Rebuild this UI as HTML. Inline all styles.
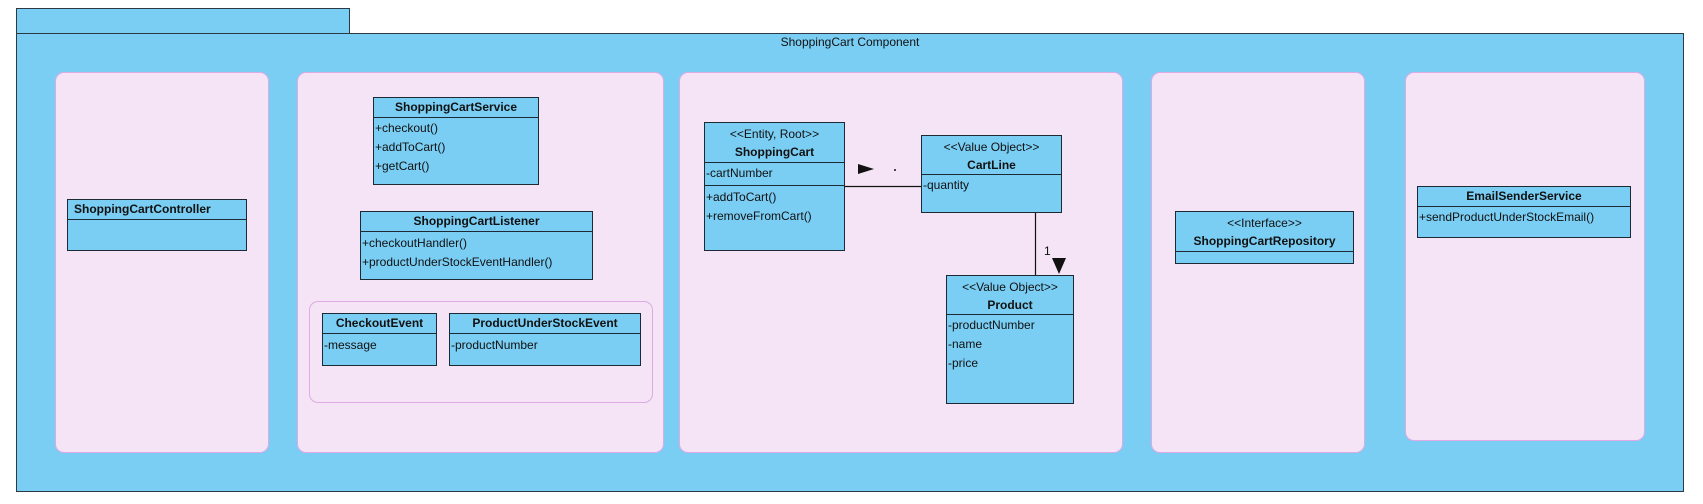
<!DOCTYPE html>
<html><head><meta charset="utf-8"><style>
body{margin:0;width:1703px;height:504px;background:#fff;position:relative;overflow:hidden;font-family:"Liberation Sans",Arial,sans-serif;font-size:12px;color:#111}
div{position:absolute;box-sizing:border-box}
.blue{background:#7ACEF4}
.frame{border:1px solid #2b3a45}
.pk{background:#F4E4F6;border:1px solid #DDAAE4;border-radius:9px}
.cls{background:#7ACEF4;border:1.5px solid #1d2a35}
.h{position:absolute;left:0;right:0;top:0;border-bottom:1.5px solid #1d2a35;text-align:center;font-weight:bold;line-height:18px}
.st{font-weight:normal}
.r{position:absolute;left:1px;white-space:nowrap;line-height:19px}
</style></head><body>
<div class="blue frame" style="left:16px;top:8px;width:334px;height:26px"></div>
<div class="blue frame" style="left:16px;top:33px;width:1668px;height:459px"></div>
<div style="left:16px;top:35px;width:1668px;text-align:center;font-size:12px">ShoppingCart Component</div>

<div class="pk" style="left:55px;top:72px;width:214px;height:381px"></div>
<div class="pk" style="left:297px;top:72px;width:367px;height:381px"></div>
<div class="pk" style="left:679px;top:72px;width:444px;height:381px"></div>
<div class="pk" style="left:1151px;top:72px;width:214px;height:381px"></div>
<div class="pk" style="left:1405px;top:72px;width:240px;height:369px"></div>
<div class="pk" style="left:309px;top:301px;width:344px;height:102px"></div>

<div class="cls" style="left:67px;top:199px;width:180px;height:52px"><div class="h" style="height:20px;text-align:left;padding-left:6px">ShoppingCartController</div></div>

<div class="cls" style="left:373px;top:97px;width:166px;height:88px"><div class="h" style="height:20px">ShoppingCartService</div>
<div class="r" style="top:21px">+checkout()</div><div class="r" style="top:40px">+addToCart()</div><div class="r" style="top:59px">+getCart()</div></div>

<div class="cls" style="left:360px;top:211px;width:233px;height:69px"><div class="h" style="height:20px">ShoppingCartListener</div>
<div class="r" style="top:22px">+checkoutHandler()</div><div class="r" style="top:41px">+productUnderStockEventHandler()</div></div>

<div class="cls" style="left:322px;top:313px;width:115px;height:53px"><div class="h" style="height:20px">CheckoutEvent</div><div class="r" style="top:22px">-message</div></div>
<div class="cls" style="left:449px;top:313px;width:192px;height:53px"><div class="h" style="height:20px">ProductUnderStockEvent</div><div class="r" style="top:22px">-productNumber</div></div>

<div class="cls" style="left:704px;top:122px;width:141px;height:129px"><div class="h" style="height:40px;line-height:18px;padding-top:2px"><span class="st">&lt;&lt;Entity, Root&gt;&gt;</span><br>ShoppingCart</div>
<div class="r" style="top:41px">-cartNumber</div>
<div style="left:0;right:0;top:62px;border-top:1.5px solid #1d2a35"></div>
<div class="r" style="top:65px">+addToCart()</div><div class="r" style="top:84px">+removeFromCart()</div></div>

<div class="cls" style="left:921px;top:135px;width:141px;height:78px"><div class="h" style="height:39px;padding-top:2px"><span class="st">&lt;&lt;Value Object&gt;&gt;</span><br>CartLine</div>
<div class="r" style="top:40px">-quantity</div></div>

<div class="cls" style="left:946px;top:275px;width:128px;height:129px"><div class="h" style="height:39px;padding-top:2px"><span class="st">&lt;&lt;Value Object&gt;&gt;</span><br>Product</div>
<div class="r" style="top:40px">-productNumber</div><div class="r" style="top:59px">-name</div><div class="r" style="top:78px">-price</div></div>

<div class="cls" style="left:1175px;top:211px;width:179px;height:53px"><div class="h" style="height:40px;padding-top:2px"><span class="st">&lt;&lt;Interface&gt;&gt;</span><br>ShoppingCartRepository</div></div>

<div class="cls" style="left:1417px;top:186px;width:214px;height:52px"><div class="h" style="height:20px">EmailSenderService</div><div class="r" style="top:21px">+sendProductUnderStockEmail()</div></div>

<svg style="position:absolute;left:0;top:0" width="1703" height="504">
<line x1="845" y1="186.5" x2="921" y2="186.5" stroke="#111" stroke-width="1.2"/>
<polygon points="858,164 874,169 858,174" fill="#111"/>
<circle cx="895" cy="170" r="1" fill="#111"/>
<line x1="1035.5" y1="213" x2="1035.5" y2="275" stroke="#111" stroke-width="1.2"/>
<polygon points="1052,258 1066,258 1059,274" fill="#111"/>
<text x="1044" y="255" font-family="Liberation Sans, Arial, sans-serif" font-size="12" fill="#111">1</text>
</svg>
</body></html>
